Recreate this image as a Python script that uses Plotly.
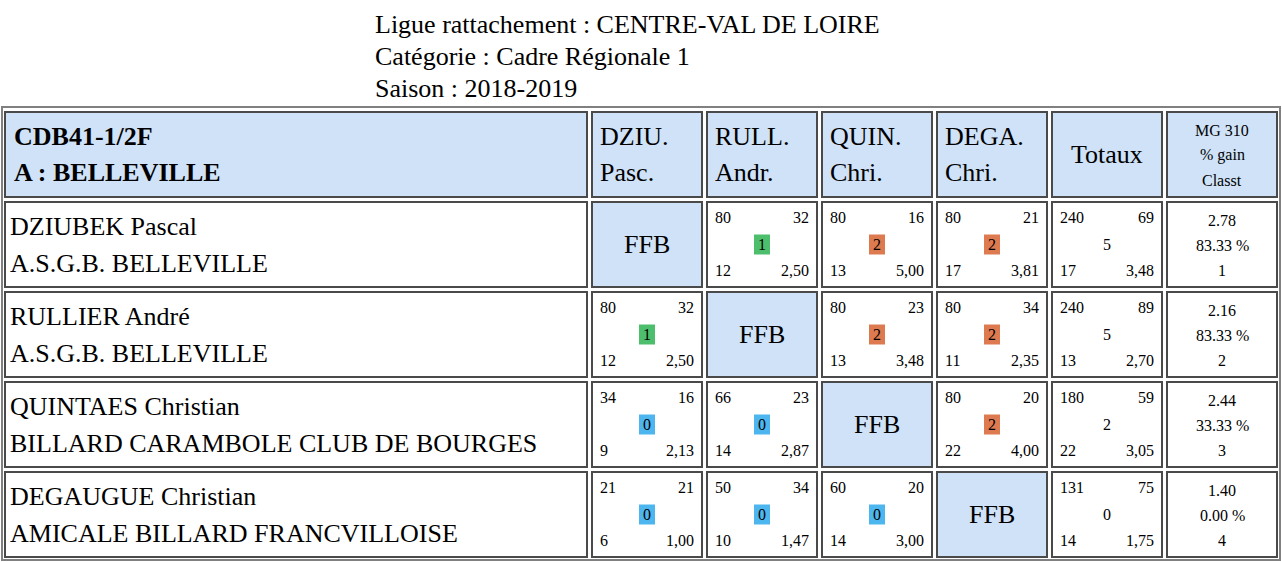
import plotly.graph_objects as go

FONT = "Liberation Serif"

# Header info
title_lines = ["Ligue rattachement : CENTRE-VAL DE LOIRE",
               "Catégorie : Cadre Régionale 1",
               "Saison : 2018-2019"]
team_header = ["CDB41-1/2F", "A : BELLEVILLE"]
col_heads = [("DZIU.", "Pasc."), ("RULL.", "Andr."), ("QUIN.", "Chri."), ("DEGA.", "Chri.")]
mg_head = ["MG 310", "% gain", "Classt"]

# Players
players = ["DZIUBEK Pascal", "RULLIER André", "QUINTAES Christian", "DEGAUGUE Christian"]
clubs = ["A.S.G.B. BELLEVILLE", "A.S.G.B. BELLEVILLE",
         "BILLARD CARAMBOLE CLUB DE BOURGES", "AMICALE BILLARD FRANCVILLOISE"]

# Match cells: (distance, points made, match points, innings, average); None = FFB
matches = [
    [None, (80, 32, 1, 12, "2,50"), (80, 16, 2, 13, "5,00"), (80, 21, 2, 17, "3,81")],
    [(80, 32, 1, 12, "2,50"), None, (80, 23, 2, 13, "3,48"), (80, 34, 2, 11, "2,35")],
    [(34, 16, 0, 9, "2,13"), (66, 23, 0, 14, "2,87"), None, (80, 20, 2, 22, "4,00")],
    [(21, 21, 0, 6, "1,00"), (50, 34, 0, 10, "1,47"), (60, 20, 0, 14, "3,00"), None],
]
totals = [(240, 69, 5, 17, "3,48"), (240, 89, 5, 13, "2,70"),
          (180, 59, 2, 22, "3,05"), (131, 75, 0, 14, "1,75")]
mg = ["2.78", "2.16", "2.44", "1.40"]
gain = ["83.33 %", "83.33 %", "33.33 %", "0.00 %"]
rank = [1, 2, 3, 4]

badge_colors = {0: "#4db6ee", 1: "#4cbe6c", 2: "#dd7a50"}
HEAD_BG = "#cfe2f8"

col_x = [(5, 587), (592, 702), (707, 817), (822, 932), (937, 1047), (1052, 1162), (1167, 1277)]
row_y = [(112, 197), (202, 287), (292, 377), (382, 467), (472, 557)]

shapes, ann = [], []


def txt(x, y, s, size=25, anchor="left", bold=False):
    ann.append(dict(x=x, y=y, text=f"<b>{s}</b>" if bold else str(s), showarrow=False,
                    xanchor=anchor, yanchor="middle", xref="x", yref="y",
                    font=dict(family=FONT, size=size, color="#000")))


def cell(c, r, fill="white"):
    x0, x1 = col_x[c]
    y0, y1 = row_y[r]
    shapes.append(dict(type="rect", x0=x0, x1=x1, y0=y0, y1=y1, xref="x", yref="y",
                       fillcolor=fill, line=dict(color="#4a4a4a", width=2), layer="below"))


def result_cell(c, r, vals):
    x0, x1 = col_x[c]
    y0, y1 = row_y[r]
    ym = (y0 + y1) / 2
    txt(x0 + 6, y0 + 15, vals[0], 16)
    txt(x1 - 6, y0 + 15, vals[1], 16, "right")
    txt(x0 + 6, y1 - 17, vals[3], 16)
    txt(x1 - 6, y1 - 17, vals[4], 16, "right")
    txt((x0 + x1) / 2, ym, vals[2], 16, "center")


# outer border
shapes.append(dict(type="rect", x0=2, x1=1280, y0=107, y1=560, xref="x", yref="y",
                   line=dict(color="#808080", width=2), layer="below"))

for i, line in enumerate(title_lines):
    txt(373, 24 + i * 32, line, 26)

# header row
for c in range(7):
    cell(c, 0, HEAD_BG)
txt(12, 136, team_header[0], 26, bold=True)
txt(12, 172, team_header[1], 26, bold=True)
for j, (a, b) in enumerate(col_heads):
    txt(col_x[j + 1][0] + 6, 136, a, 26)
    txt(col_x[j + 1][0] + 6, 172, b, 26)
txt(sum(col_x[5]) / 2, 154, "Totaux", 26, "center")
for k, s in enumerate(mg_head):
    txt(sum(col_x[6]) / 2, 130 + k * 25, s, 16, "center")

for i in range(4):
    r = i + 1
    y0, y1 = row_y[r]
    cell(0, r)
    txt(8, y0 + 24, players[i], 26)
    txt(8, y0 + 61, clubs[i], 26)
    for j in range(4):
        m = matches[i][j]
        if m is None:
            cell(j + 1, r, HEAD_BG)
            txt(sum(col_x[j + 1]) / 2, (y0 + y1) / 2, "FFB", 26, "center")
        else:
            cell(j + 1, r)
            xm = sum(col_x[j + 1]) / 2
            ym = (y0 + y1) / 2
            shapes.append(dict(type="rect", x0=xm - 8, x1=xm + 8, y0=ym - 10, y1=ym + 10,
                               xref="x", yref="y", fillcolor=badge_colors[m[2]],
                               line=dict(width=0)))
            result_cell(j + 1, r, m)
    cell(5, r)
    result_cell(5, r, totals[i])
    cell(6, r)
    for k, s in enumerate([mg[i], gain[i], rank[i]]):
        txt(sum(col_x[6]) / 2, y0 + 18 + k * 25, s, 16, "center")

fig = go.Figure()
fig.update_layout(width=1282, height=562, margin=dict(l=0, r=0, t=0, b=0),
                  plot_bgcolor="white", paper_bgcolor="white",
                  shapes=shapes, annotations=ann, showlegend=False)
fig.update_xaxes(range=[0, 1282], visible=False, fixedrange=True)
fig.update_yaxes(range=[562, 0], visible=False, fixedrange=True)

fig.write_html("out.html", config={"displayModeBar": False},
               post_script="document.body.style.margin='0';document.body.style.overflow='hidden';")
